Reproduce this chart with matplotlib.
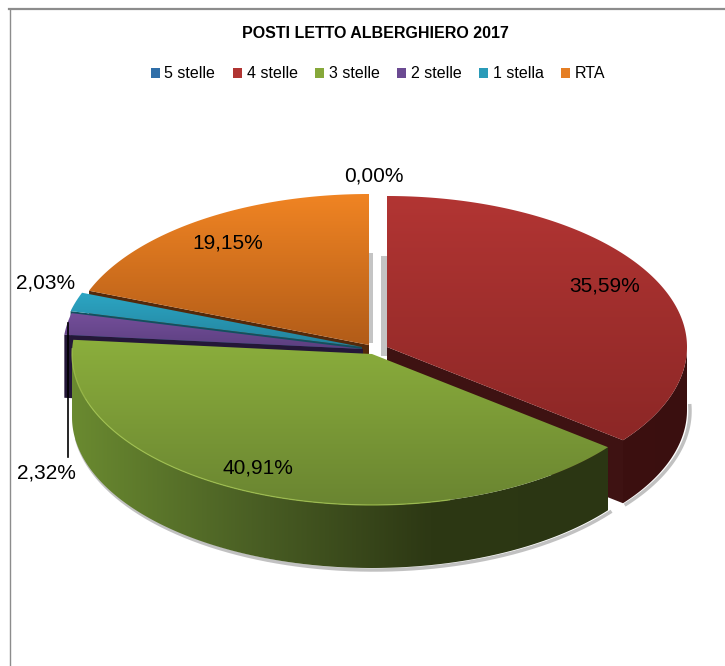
import numpy as np
import matplotlib
matplotlib.use("Agg")
import matplotlib.pyplot as plt
from matplotlib.patches import Polygon, Patch, Rectangle

plt.rcParams['font.family'] = ['Liberation Sans', 'DejaVu Sans']

categories = ["5 stelle", "4 stelle", "3 stelle", "2 stelle", "1 stella", "RTA"]
values = [0.00, 35.59, 40.91, 2.32, 2.03, 19.15]
title = "POSTI LETTO ALBERGHIERO 2017"
legend_colors = ["#2f6ea8", "#b03432", "#86a83a", "#6b4a92", "#2a9bb8", "#e57e24"]

# pixel layout of the exploded pie
centers = [(378, 345), (387, 347), (372, 354), (363, 349), (362, 347), (369, 345)]
rx, ry, depth = 300, 151, 63
top_colors = [("#3a7dbd", "#2f6ea8"), ("#b23533", "#8c2726"), ("#8bae3c", "#6a8531"),
              ("#744f9a", "#5c3f80"), ("#2ca6c4", "#23829c"), ("#f08423", "#b25c18")]
radial_colors = ["#1c3350", "#3e1212", "#2c3714", "#241738", "#12505f", "#53290b"]
side_colors = [("#1c3350", "#1c3350"), ("#3c1010", "#3a0f0f"),
               ("#6a8a30", "#4a5f24", "#2d3814", "#2b3613"),
               ("#241738", "#241738"), ("#12505f", "#12505f"), ("#53290b", "#53290b")]
draw_order = [0, 5, 4, 3, 1, 2]

fig = plt.figure(figsize=(7.25, 6.66), dpi=100)
ax = fig.add_axes([0, 0, 1, 1])
ax.set_xlim(0, 725)
ax.set_ylim(666, 0)
ax.axis("off")
ax.set_autoscale_on(False)


def point(c, a):
    t = np.radians(a)
    return c[0] + rx * np.sin(t), c[1] - ry * np.cos(t)


def arc(c, a0, a1):
    t = np.linspace(a0, a1, max(int(abs(a1 - a0)) * 2, 2))
    return np.column_stack(point(c, t))


def gradient(pts, colors, vertical, z):
    pts = np.asarray(pts)
    l, r = pts[:, 0].min(), pts[:, 0].max()
    t, b = pts[:, 1].min(), pts[:, 1].max()
    stops = np.array([matplotlib.colors.to_rgb(h) for h in colors])
    k = np.linspace(0, 1, 128)
    pos = np.linspace(0, 1, len(colors))
    col = np.column_stack([np.interp(k, pos, stops[:, n]) for n in range(3)])
    img = col[:, None, :] if vertical else col[None, :, :]
    im = ax.imshow(img, extent=(l, r, b, t), origin="upper", aspect="auto", zorder=z,
                   interpolation="bilinear")
    im.set_clip_path(Polygon(pts, transform=ax.transData))


# soft outer shadow
ax.plot(*arc((centers[2][0] + 2, centers[2][1] + depth + 2), 128.1, 262).T, color="#999999", lw=2.5, alpha=0.6, zorder=1)
ax.plot(*arc((centers[1][0] + 3, centers[1][1] + depth + 1), 88, 128.1).T, color="#999999", lw=2.5, alpha=0.6, zorder=1)
ax.add_patch(Rectangle((369, 253), 4, 90, color="#c4c4c4", lw=0, zorder=1))
ax.add_patch(Rectangle((381, 256), 6, 100, color="#c4c4c4", lw=0, zorder=1))

starts = np.concatenate([[0], np.cumsum(values)[:-1]]) * 3.6
ends = np.cumsum(values) * 3.6
z = 2
for i in draw_order:
    if values[i] == 0:
        continue
    c, a0, a1 = centers[i], starts[i], ends[i]
    # radial face on the leading edge, only seen when it faces the viewer
    if 180 < a0 < 360:
        e = point(c, a0)
        ax.add_patch(Polygon([c, e, (e[0], e[1] + depth), (c[0], c[1] + depth)],
                             color=radial_colors[i], lw=0, zorder=z))
    if 0 < a1 < 180:
        e = point(c, a1)
        ax.add_patch(Polygon([c, e, (e[0], e[1] + depth), (c[0], c[1] + depth)],
                             color=radial_colors[i], lw=0, zorder=z))
    z += 1
    # curved outer side
    s0, s1 = max(a0, 90), min(a1, 270)
    if s1 > s0:
        upper = arc(c, s0, s1)
        lower = upper[::-1] + [0, depth]
        gradient(np.vstack([upper, lower]), side_colors[i], False, z)
    z += 1
    # top face
    gradient(np.vstack([[c], arc(c, a0, a1)]), top_colors[i], True, z)
    z += 1

# light rim on the green slice
ax.plot(*arc(centers[2], 165, 272).T, color="#a3c44f", lw=0.9, alpha=0.8, zorder=z)
z += 1

# frame
ax.plot([10, 10], [9, 666], color="#8c8c8c", lw=1, zorder=z)
ax.plot([9, 725], [9, 9], color="#8c8c8c", lw=1.6, zorder=z)

# leader line for 2,32%
ax.plot([68, 68], [323, 457], color="black", lw=1.2, zorder=z)

label_pos = [(374, 176), (605, 286), (258, 468), (46, 473), (46, 283), (228, 243)]
for v, (x, y) in zip(values, label_pos):
    ax.text(x, y, f"{v:.2f}%".replace(".", ","), fontsize=15, ha="center", va="center",
            color="black", zorder=z + 1)

ax.text(375, 33, title, fontsize=11.5, fontweight="bold", ha="center", va="center", color="black")

handles = [Patch(facecolor=col, edgecolor="none", label=n) for n, col in zip(categories, legend_colors)]
fig.legend(handles=handles, loc="center", bbox_to_anchor=(378 / 725, 1 - 74 / 666), ncol=6,
           frameon=False, fontsize=11.5, handlelength=0.55, handleheight=0.55, handletextpad=0.3,
           columnspacing=1.1, borderpad=0)

fig.savefig("out.png", dpi=100)
